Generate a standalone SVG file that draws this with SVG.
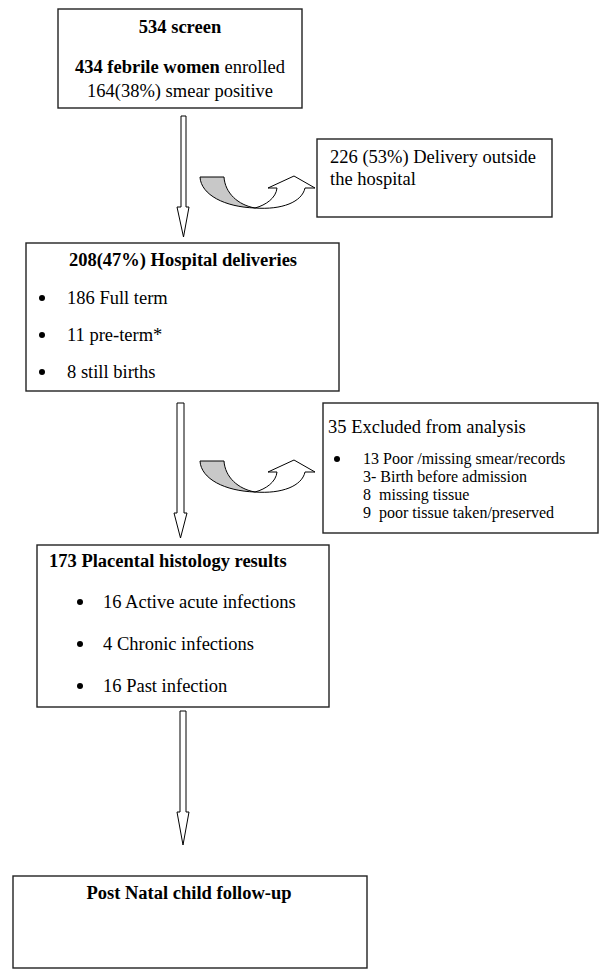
<svg xmlns="http://www.w3.org/2000/svg" width="600" height="978" viewBox="0 0 600 978">
<style>
.box{fill:#fff;stroke:#222;stroke-width:1.4}
.t{font-family:"Liberation Serif","Times New Roman",serif;font-size:18.5px;fill:#000}
.s{font-size:16px}
.b{font-weight:bold}
.c{text-anchor:middle}
.arr{fill:#fff;stroke:#000;stroke-width:1}
.gray{fill:#c8c8c8;stroke:#000;stroke-width:1}
.dot{fill:#000}
</style>
<defs>
<g id="curved">
<path class="gray" d="M200,177 L224,177 C225,193 238,205 255,208 C225,207 201,195 200,177 Z"/>
<path class="arr" d="M255,208 C266,205 276,198 277,188 L268,188 L294,176 L315,188 L305,188 C302,202 282,210 255,208 Z"/>
</g>
</defs>
<rect width="600" height="978" fill="#fff"/>
<g id="connectors">
<path class="arr" d="M181,116 L186,116 L186,207 L189,207 L183.5,237 L177,207 L181,207 Z"/>
<path class="arr" d="M177,403 L184,403 L184,513 L187,513 L180.5,538 L174,513 L177,513 Z"/>
<path class="arr" d="M180,711 L186,711 L186,812 L189,812 L183,845 L177,812 L180,812 Z"/>
<use href="#curved"/>
<use href="#curved" transform="translate(0,284)"/>
</g>
<g id="n1">
<rect class="box" x="58" y="9" width="244" height="99"/>
<text class="t b c" x="180" y="33">534 screen</text>
<text class="t c" x="180" y="73"><tspan class="b">434 febrile women</tspan> enrolled</text>
<text class="t c" x="180" y="97">164(38%) smear positive</text>
</g>
<g id="n2">
<rect class="box" x="317" y="139" width="235" height="78"/>
<text class="t" x="330" y="163">226 (53%) Delivery outside</text>
<text class="t" x="330" y="185">the hospital</text>
</g>
<g id="n3">
<rect class="box" x="26" y="243" width="313" height="148"/>
<text class="t b c" x="183" y="266">208(47%) Hospital deliveries</text>
<circle class="dot" cx="42" cy="298" r="3"/>
<text class="t" x="67" y="304">186 Full term</text>
<circle class="dot" cx="42" cy="335" r="3"/>
<text class="t" x="67" y="341">11 pre-term*</text>
<circle class="dot" cx="42" cy="372" r="3"/>
<text class="t" x="67" y="378">8 still births</text>
</g>
<g id="n4">
<rect class="box" x="323" y="403" width="275" height="130"/>
<text class="t" x="328" y="433">35 Excluded from analysis</text>
<circle class="dot" cx="337" cy="459" r="3"/>
<text class="t s" x="363" y="464">13 Poor /missing smear/records</text>
<text class="t s" x="363" y="482">3- Birth before admission</text>
<text class="t s" x="363" y="500" xml:space="preserve">8  missing tissue</text>
<text class="t s" x="363" y="518" xml:space="preserve">9  poor tissue taken/preserved</text>
</g>
<g id="n5">
<rect class="box" x="37" y="545" width="292" height="162"/>
<text class="t b" x="49" y="567">173 Placental histology results</text>
<circle class="dot" cx="80" cy="602" r="3"/>
<text class="t" x="103" y="608">16 Active acute infections</text>
<circle class="dot" cx="80" cy="644" r="3"/>
<text class="t" x="103" y="650">4 Chronic infections</text>
<circle class="dot" cx="80" cy="686" r="3"/>
<text class="t" x="103" y="692">16 Past infection</text>
</g>
<g id="n6">
<rect class="box" x="13" y="876" width="354" height="92"/>
<text class="t b c" x="189" y="899">Post Natal child follow-up</text>
</g>
</svg>
